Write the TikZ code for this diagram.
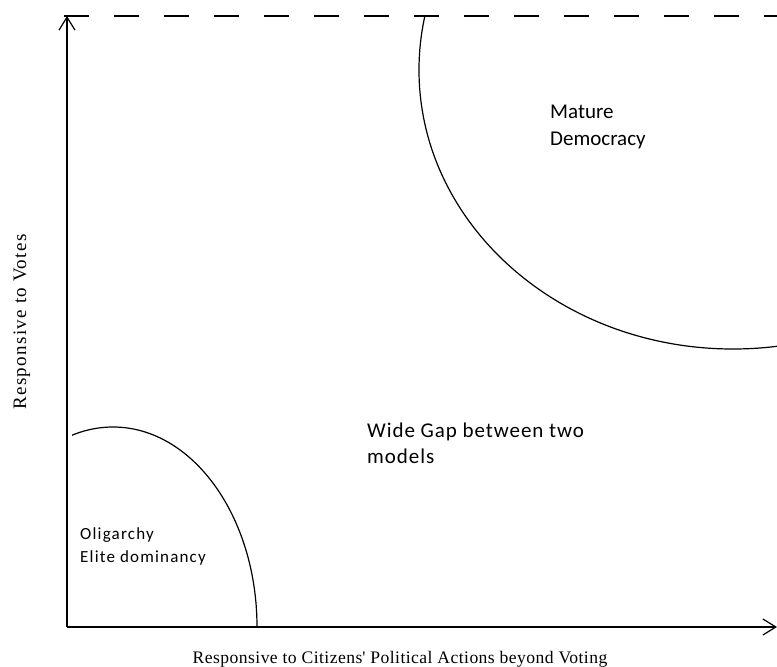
\documentclass[tikz,border=0pt]{standalone}
\usepackage{fontspec}
\setmainfont{Liberation Serif}
\newfontfamily\zonefont{Carlito}
\usetikzlibrary{arrows.meta}

\begin{document}
\begin{tikzpicture}[x=1pt,y=-1pt,
  axis/.style={line width=1.2pt,-{Straight Barb[length=13pt,width=16pt]}},
  region/.style={line width=1.2pt},
  zonelabel/.style={font=\zonefont\fontsize{21}{26.5}\selectfont,align=left,inner sep=0pt,anchor=base west},
  widelabel/.style={zonelabel,font=\zonefont\addfontfeature{LetterSpace=4.5}\fontsize{21}{26}\selectfont},
  smalllabel/.style={zonelabel,font=\zonefont\addfontfeature{LetterSpace=7}\fontsize{17}{23}\selectfont},
  axislabel/.style={inner sep=0pt,anchor=base}]
  \useasboundingbox (0,0) rectangle (777,667);
  \coordinate (origin) at (67,627);
  \coordinate (ytop) at (67,16);
  \coordinate (xend) at (777,627);
  \coordinate (dashstart) at (64,16);
  \coordinate (dashend) at (777,16);
  % axes
  \draw[axis] (origin) -- (ytop);
  \draw[axis] (origin) -- (xend);
  \draw[line width=2pt,dash pattern=on 25pt off 25pt] (dashstart) -- (dashend);
  % regions
  \begin{scope}
    \clip (67,16) rectangle (777,667);
    \draw[region] (733,70) ellipse [x radius=314, y radius=279];
  \end{scope}
  \begin{scope}
    \clip (72,0) rectangle (777,627);
    \draw[region] (113,627) ellipse [x radius=144, y radius=200];
  \end{scope}
  % labels
  \node[zonelabel] (mature) at (550,145) {Mature\\Democracy};
  \node[widelabel] (gap) at (367,463) {Wide Gap between two\\models};
  \node[smalllabel] (oligarchy) at (80,562) {Oligarchy\\Elite dominancy};
  \node[axislabel,font=\addfontfeature{LetterSpace=2.5}\fontsize{17.6}{20}\selectfont] (xlabel) at (400,663)
    {Responsive to Citizens\textquotesingle\ Political Actions beyond Voting};
  \node[axislabel,font=\addfontfeature{LetterSpace=7}\fontsize{19}{22}\selectfont,rotate=90] (ylabel) at (26,322)
    {Responsive to Votes};
\end{tikzpicture}
\end{document}
